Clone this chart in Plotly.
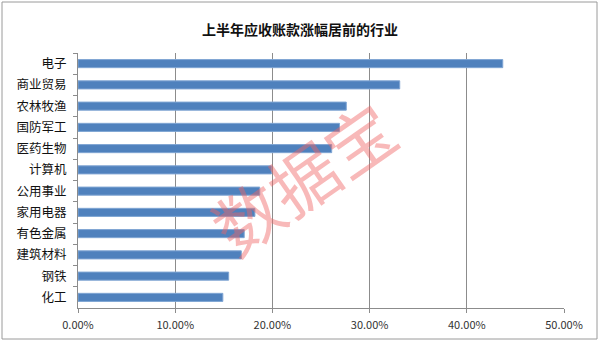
import plotly.graph_objects as go

categories = ["电子", "商业贸易", "农林牧渔", "国防军工", "医药生物", "计算机",
              "公用事业", "家用电器", "有色金属", "建筑材料", "钢铁", "化工"]
values = [0.437, 0.331, 0.276, 0.269, 0.261, 0.199,
          0.187, 0.182, 0.171, 0.168, 0.155, 0.149]
x_ticks = [0, 0.1, 0.2, 0.3, 0.4, 0.5]
x_tick_labels = ["0.00%", "10.00%", "20.00%", "30.00%", "40.00%", "50.00%"]
title_text = "上半年应收账款涨幅居前的行业"
watermark = "数据宝"

W, H = 600, 343
ml, mr, mt, mb = 78, 36, 53, 35
pw, ph = W - ml - mr, H - mt - mb

def px_to_paper_x(px):
    return (px - ml) / pw

def px_to_paper_y(py):
    return (H - mb - py) / ph

font = "Noto Sans CJK SC, Noto Sans, sans-serif"

fig = go.Figure()
fig.add_trace(go.Bar(
    x=values, y=categories, orientation="h",
    width=0.38,
    marker=dict(color="#4F81BD", line=dict(color="#7FA5D3", width=1)),
))

fig.update_layout(
    width=W, height=H,
    margin=dict(l=ml, r=mr, t=mt, b=mb),
    paper_bgcolor="white", plot_bgcolor="white",
    showlegend=False,
    bargap=0.6,
    title=dict(text="<b>" + title_text + "</b>", x=0.5, xanchor="center",
               y=1 - 30 / H, yanchor="middle", yref="container",
               font=dict(family=font, size=14, color="#111")),
    xaxis=dict(range=[0, 0.5], tickvals=x_ticks, ticktext=x_tick_labels,
               showgrid=True, gridcolor="#8C8C8C", gridwidth=1,
               showline=True, linecolor="#8C8C8C", linewidth=1,
               ticks="outside", ticklen=4, tickcolor="#8C8C8C",
               zeroline=False, ticklabelstandoff=3,
               tickfont=dict(family=font, size=11, color="#333")),
    yaxis=dict(autorange="reversed", showline=True, linecolor="#8C8C8C",
               linewidth=1, ticks="outside", ticklen=4, tickcolor="#8C8C8C",
               tickson="boundaries", showgrid=False, ticklabelstandoff=8,
               tickfont=dict(family=font, size=12.5, color="#111")),
    shapes=[dict(type="rect", xref="paper", yref="paper",
                 x0=px_to_paper_x(2), x1=px_to_paper_x(597),
                 y0=px_to_paper_y(339), y1=px_to_paper_y(2),
                 line=dict(color="#9A9A9A", width=1), layer="below")],
    annotations=[dict(text=watermark, xref="paper", yref="paper",
                      x=px_to_paper_x(302), y=px_to_paper_y(176),
                      showarrow=False, textangle=-35,
                      font=dict(family=font, size=68, color="rgba(240,100,100,0.45)"))],
)

fig.write_html("out.html")
